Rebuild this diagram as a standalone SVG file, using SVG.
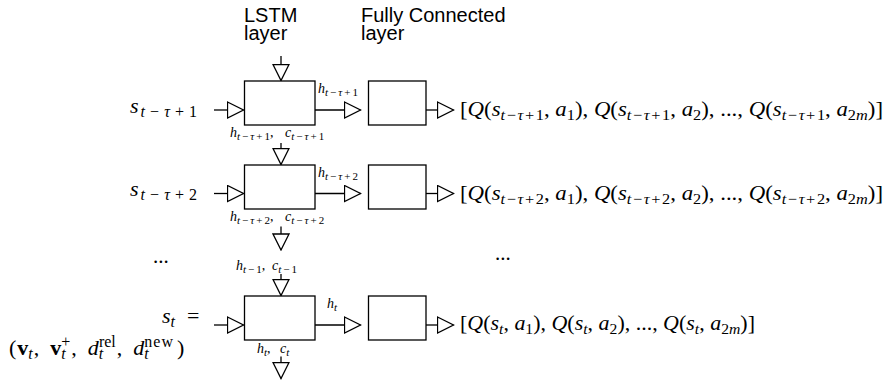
<svg xmlns="http://www.w3.org/2000/svg" width="887" height="383" viewBox="0 0 887 383">
<defs>
<style>
.box{fill:#fff;stroke:#000;stroke-width:1.3}
.ln{fill:none;stroke:#000;stroke-width:1.3;marker-end:url(#tri)}
.hd{font-family:"Liberation Sans",Arial,sans-serif;font-size:20px;fill:#000}
.m{font-family:"Liberation Serif","Times New Roman",serif;font-size:21px;fill:#000}
.big{font-size:22px}
.l{font-family:"Liberation Serif","Times New Roman",serif;font-size:14px;fill:#000}
.i{font-style:italic}
.b{font-weight:bold}
.s{font-size:15px}
.s2{font-size:16px}
.ls{font-size:11px}
</style>
<marker id="tri" viewBox="-1 -1 18 18" markerWidth="18" markerHeight="18" refX="16" refY="8" orient="auto" markerUnits="userSpaceOnUse">
<path d="M0,0 L16,8 L0,16 Z" fill="#fff" stroke="#000" stroke-width="1.3"/>
</marker>
</defs>
<rect width="887" height="383" fill="#fff"/>

<g id="headers">
<text class="hd" x="244" y="21.5">LSTM<tspan x="244" y="40">layer</tspan></text>
<text class="hd" x="361" y="21.5">Fully Connected<tspan x="361" y="40">layer</tspan></text>
</g>

<g id="connectors">
<path class="ln" d="M281,56 V80.5"/>
<path class="ln" d="M214,110 H243.5"/>
<path class="ln" d="M315,110 H360.5"/>
<path class="ln" d="M426,110 H453.5"/>
<path class="ln" d="M281,143 V164.5"/>
<path class="ln" d="M214,193.5 H243.5"/>
<path class="ln" d="M315,193.5 H360.5"/>
<path class="ln" d="M426,193.5 H453.5"/>
<path class="ln" d="M281,226.5 V250"/>
<path class="ln" d="M281,274 V295.5"/>
<path class="ln" d="M214,325 H243.5"/>
<path class="ln" d="M315,325 H360.5"/>
<path class="ln" d="M426,325 H453.5"/>
<path class="ln" d="M281,356.5 V378.5"/>
</g>

<g id="lstm1"><rect class="box" x="244.5" y="81" width="70.5" height="44"/></g>
<g id="fc1"><rect class="box" x="368.5" y="81" width="57.5" height="44"/></g>
<g id="lstm2"><rect class="box" x="244.5" y="165" width="70.5" height="44"/></g>
<g id="fc2"><rect class="box" x="368.5" y="165" width="57.5" height="44"/></g>
<g id="lstm3"><rect class="box" x="244.5" y="296" width="70.5" height="44"/></g>
<g id="fc3"><rect class="box" x="368.5" y="296" width="57.5" height="44"/></g>

<g id="inputs">
<text class="m big" x="130" y="112.5" textLength="67" lengthAdjust="spacing"><tspan class="i">s</tspan><tspan class="s2" dy="4"><tspan class="i">t</tspan><tspan dx="3">−</tspan><tspan class="i" dx="3">τ</tspan><tspan dx="3">+</tspan><tspan dx="3">1</tspan></tspan></text>
<text class="m big" x="130" y="196" textLength="67" lengthAdjust="spacing"><tspan class="i">s</tspan><tspan class="s2" dy="4"><tspan class="i">t</tspan><tspan dx="3">−</tspan><tspan class="i" dx="3">τ</tspan><tspan dx="3">+</tspan><tspan dx="3">2</tspan></tspan></text>
<text class="m big" x="162" y="323"><tspan class="i">s</tspan><tspan class="s2 i" dy="4">t</tspan><tspan x="187" dy="-4">=</tspan></text>
<text class="m big" x="9" y="355">(<tspan class="b" dx="1">v</tspan><tspan class="s2 i" dy="4">t</tspan><tspan dy="-4" dx="1">,</tspan><tspan class="b" dx="11">v</tspan><tspan class="s2 i" dy="4">t</tspan><tspan class="s2" dx="-4.4" dy="-12">+</tspan><tspan dy="8" dx="1">,</tspan><tspan class="i" dx="11">d</tspan><tspan class="s2 i" dy="4">t</tspan><tspan class="s2" dx="-4.4" dy="-12">rel</tspan><tspan dy="8" dx="1">,</tspan><tspan class="i" dx="11">d</tspan><tspan class="s2 i" dy="4">t</tspan><tspan class="s2" dx="-4.4" dy="-12" letter-spacing="1">new</tspan><tspan dy="8" dx="3">)</tspan></text>
</g>

<g id="labels">
<text class="l" x="318" y="93"><tspan class="i">h</tspan><tspan class="ls" dy="3"><tspan class="i">t</tspan><tspan dx="2">−</tspan><tspan class="i" dx="2">τ</tspan><tspan dx="2">+</tspan><tspan dx="2">1</tspan></tspan></text>
<text class="l" x="318" y="177"><tspan class="i">h</tspan><tspan class="ls" dy="3"><tspan class="i">t</tspan><tspan dx="2">−</tspan><tspan class="i" dx="2">τ</tspan><tspan dx="2">+</tspan><tspan dx="2">2</tspan></tspan></text>
<text class="l" x="327" y="308"><tspan class="i">h</tspan><tspan class="ls i" dy="3">t</tspan></text>
<text class="l" x="230" y="137"><tspan class="i">h</tspan><tspan class="ls" dy="3"><tspan class="i">t</tspan><tspan dx="2">−</tspan><tspan class="i" dx="2">τ</tspan><tspan dx="2">+</tspan><tspan dx="2">1</tspan></tspan><tspan dy="-3">,</tspan><tspan class="i" x="285">c</tspan><tspan class="ls" dy="3"><tspan class="i">t</tspan><tspan dx="2">−</tspan><tspan class="i" dx="2">τ</tspan><tspan dx="2">+</tspan><tspan dx="2">1</tspan></tspan></text>
<text class="l" x="230" y="221"><tspan class="i">h</tspan><tspan class="ls" dy="3"><tspan class="i">t</tspan><tspan dx="2">−</tspan><tspan class="i" dx="2">τ</tspan><tspan dx="2">+</tspan><tspan dx="2">2</tspan></tspan><tspan dy="-3">,</tspan><tspan class="i" x="285">c</tspan><tspan class="ls" dy="3"><tspan class="i">t</tspan><tspan dx="2">−</tspan><tspan class="i" dx="2">τ</tspan><tspan dx="2">+</tspan><tspan dx="2">2</tspan></tspan></text>
<text class="l" x="236" y="270"><tspan class="i">h</tspan><tspan class="ls" dy="3"><tspan class="i">t</tspan><tspan dx="2">−</tspan><tspan dx="2">1</tspan></tspan><tspan dy="-3">,</tspan><tspan class="i" x="272">c</tspan><tspan class="ls" dy="3"><tspan class="i">t</tspan><tspan dx="2">−</tspan><tspan dx="2">1</tspan></tspan></text>
<text class="l" x="257" y="353"><tspan class="i">h</tspan><tspan class="ls i" dy="3">t</tspan><tspan dy="-3">,</tspan><tspan class="i" x="280">c</tspan><tspan class="ls i" dy="3">t</tspan></text>
</g>

<g id="dots">
<text class="m" x="153" y="263">...</text>
<text class="m" x="495" y="260">...</text>
</g>

<g id="outputs">
<text class="m" x="460" y="116" textLength="423" lengthAdjust="spacingAndGlyphs">[<tspan class="i">Q</tspan>(<tspan class="i">s</tspan><tspan class="s" dy="4"><tspan class="i">t</tspan><tspan dx="1.5">−</tspan><tspan class="i" dx="1.5">τ</tspan><tspan dx="1.5">+</tspan><tspan dx="1.5">1</tspan></tspan><tspan dy="-4">, </tspan><tspan class="i">a</tspan><tspan class="s" dy="4">1</tspan><tspan dy="-4">), </tspan><tspan class="i">Q</tspan>(<tspan class="i">s</tspan><tspan class="s" dy="4"><tspan class="i">t</tspan><tspan dx="1.5">−</tspan><tspan class="i" dx="1.5">τ</tspan><tspan dx="1.5">+</tspan><tspan dx="1.5">1</tspan></tspan><tspan dy="-4">, </tspan><tspan class="i">a</tspan><tspan class="s" dy="4">2</tspan><tspan dy="-4">), ..., </tspan><tspan class="i">Q</tspan>(<tspan class="i">s</tspan><tspan class="s" dy="4"><tspan class="i">t</tspan><tspan dx="1.5">−</tspan><tspan class="i" dx="1.5">τ</tspan><tspan dx="1.5">+</tspan><tspan dx="1.5">1</tspan></tspan><tspan dy="-4">, </tspan><tspan class="i">a</tspan><tspan class="s" dy="4">2<tspan class="i">m</tspan></tspan><tspan dy="-4">)]</tspan></text>
<text class="m" x="460" y="199.5" textLength="423" lengthAdjust="spacingAndGlyphs">[<tspan class="i">Q</tspan>(<tspan class="i">s</tspan><tspan class="s" dy="4"><tspan class="i">t</tspan><tspan dx="1.5">−</tspan><tspan class="i" dx="1.5">τ</tspan><tspan dx="1.5">+</tspan><tspan dx="1.5">2</tspan></tspan><tspan dy="-4">, </tspan><tspan class="i">a</tspan><tspan class="s" dy="4">1</tspan><tspan dy="-4">), </tspan><tspan class="i">Q</tspan>(<tspan class="i">s</tspan><tspan class="s" dy="4"><tspan class="i">t</tspan><tspan dx="1.5">−</tspan><tspan class="i" dx="1.5">τ</tspan><tspan dx="1.5">+</tspan><tspan dx="1.5">2</tspan></tspan><tspan dy="-4">, </tspan><tspan class="i">a</tspan><tspan class="s" dy="4">2</tspan><tspan dy="-4">), ..., </tspan><tspan class="i">Q</tspan>(<tspan class="i">s</tspan><tspan class="s" dy="4"><tspan class="i">t</tspan><tspan dx="1.5">−</tspan><tspan class="i" dx="1.5">τ</tspan><tspan dx="1.5">+</tspan><tspan dx="1.5">2</tspan></tspan><tspan dy="-4">, </tspan><tspan class="i">a</tspan><tspan class="s" dy="4">2<tspan class="i">m</tspan></tspan><tspan dy="-4">)]</tspan></text>
<text class="m" x="460" y="330" textLength="295" lengthAdjust="spacingAndGlyphs">[<tspan class="i">Q</tspan>(<tspan class="i">s</tspan><tspan class="s i" dy="4">t</tspan><tspan dy="-4">, </tspan><tspan class="i">a</tspan><tspan class="s" dy="4">1</tspan><tspan dy="-4">), </tspan><tspan class="i">Q</tspan>(<tspan class="i">s</tspan><tspan class="s i" dy="4">t</tspan><tspan dy="-4">, </tspan><tspan class="i">a</tspan><tspan class="s" dy="4">2</tspan><tspan dy="-4">), ..., </tspan><tspan class="i">Q</tspan>(<tspan class="i">s</tspan><tspan class="s i" dy="4">t</tspan><tspan dy="-4">, </tspan><tspan class="i">a</tspan><tspan class="s" dy="4">2<tspan class="i">m</tspan></tspan><tspan dy="-4">)]</tspan></text>
</g>
</svg>
